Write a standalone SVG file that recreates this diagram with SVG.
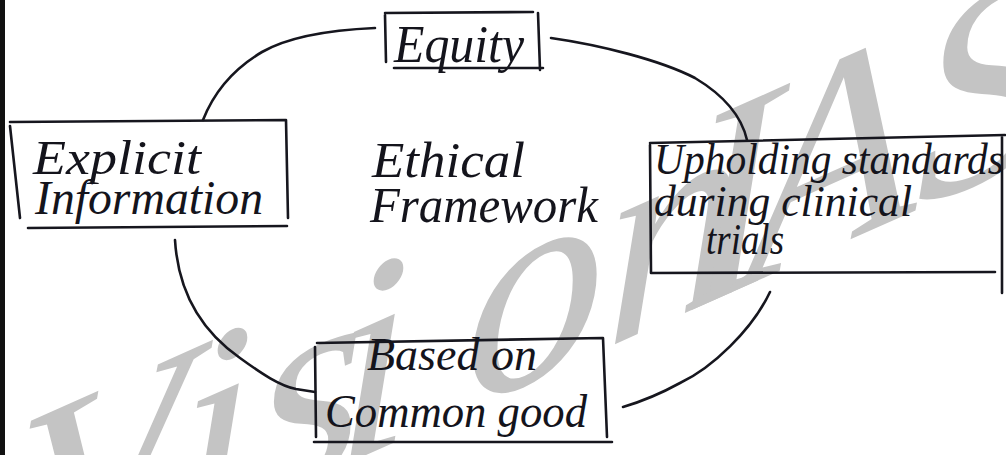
<svg xmlns="http://www.w3.org/2000/svg" width="1006" height="455" viewBox="0 0 1006 455">
<style>
.ln{fill:none;stroke:#16161e;stroke-width:2.6;stroke-linecap:round;stroke-linejoin:round}
.tx{font-family:"Liberation Serif","DejaVu Serif",serif;font-style:italic;fill:#14141c}
.wm{font-family:"Liberation Serif","DejaVu Serif",serif;font-style:italic;fill:#c4c4c4}
</style>
<rect x="0" y="0" width="1006" height="455" fill="#ffffff"/>
<g id="watermark">
<text class="wm" font-size="280" transform="translate(0,618) skewY(-24)" x="15 178 256 334 465 605 686 745 916" y="0">VisionIAS</text>
</g>
<rect x="0" y="0" width="5" height="455" fill="#111111"/>
<g id="connectors">
<path class="ln" d="M375,28 C330,30 290,36 262,52 C235,68 214,92 203,120"/>
<path class="ln" d="M551,38 C600,45 660,60 695,78 C725,96 742,118 747,140"/>
<path class="ln" d="M770,292 C752,330 712,368 680,383 C660,394 640,402 623,407"/>
<path class="ln" d="M175,240 C178,290 200,330 240,358 C262,374 280,386 296,389 L315,392"/>
</g>
<g id="equity">
<path class="ln" d="M385,15 L386,62 M385,13 L533,12 M538,13 L540,70 M394,68 L543,68"/>
<text class="tx" x="394" y="62" font-size="52" textLength="130" lengthAdjust="spacingAndGlyphs">Equity</text>
</g>
<g id="explicit">
<path class="ln" d="M10,126 L20,218 M10,122 L285,120 M286,120 L288,218 M28,228 L287,226"/>
<text class="tx" x="33" y="174" font-size="48" textLength="168" lengthAdjust="spacingAndGlyphs">Explicit</text>
<text class="tx" x="35" y="214" font-size="48" textLength="228" lengthAdjust="spacingAndGlyphs">Information</text>
</g>
<g id="ethical">
<text class="tx" x="372" y="177" font-size="50" textLength="153" lengthAdjust="spacingAndGlyphs">Ethical</text>
<text class="tx" x="370" y="222" font-size="50" textLength="228" lengthAdjust="spacingAndGlyphs">Framework</text>
</g>
<g id="upholding">
<path class="ln" d="M650,145 L651,273 M650,143 L1005,135 M651,273 L995,272 M1002,137 L1002,293"/>
<text class="tx" x="654" y="174" font-size="44" textLength="350" lengthAdjust="spacingAndGlyphs">Upholding standards</text>
<text class="tx" x="654" y="216" font-size="44" textLength="258" lengthAdjust="spacingAndGlyphs">during clinical</text>
<text class="tx" x="706" y="254" font-size="44" textLength="78" lengthAdjust="spacingAndGlyphs">trials</text>
</g>
<g id="based">
<path class="ln" d="M315,347 L316,437 M317,343 L602,338 M603,338 L607,437 M314,442 L612,442"/>
<text class="tx" x="367" y="370" font-size="46" textLength="170" lengthAdjust="spacingAndGlyphs">Based on</text>
<text class="tx" x="325" y="427" font-size="46" textLength="262" lengthAdjust="spacingAndGlyphs">Common good</text>
</g>
</svg>
